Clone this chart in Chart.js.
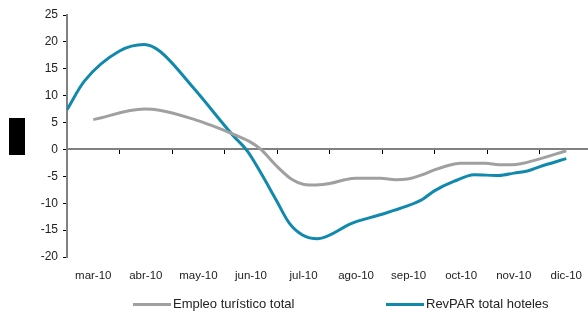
<!DOCTYPE html>
<html>
<head>
<meta charset="utf-8">
<script src="https://cdn.jsdelivr.net/npm/chart.js@4.4.1/dist/chart.umd.min.js"></script>
<style>
  html, body { margin: 0; padding: 0; background: #fff; overflow: hidden; }
  #wrap { position: relative; width: 588px; height: 318px; overflow: hidden; }
  canvas { position: absolute; left: 0; top: 0; }
  .blk { position: absolute; left: 9px; top: 118px; width: 16px; height: 37px; background: #000; }
  .leg { position: absolute; top: 296px; font: 13px "Liberation Sans", Arial, sans-serif; color: #222; white-space: nowrap; }
  .leg i { display: inline-block; width: 38px; height: 3px; vertical-align: middle; margin-right: 2px; }
</style>
</head>
<body>
<div id="wrap">
  <canvas id="chart" width="594" height="318"></canvas>
  <div class="blk"></div>
  <div class="leg" style="left:133px"><i style="background:#a0a0a0"></i>Empleo turístico total</div>
  <div class="leg" style="left:386px"><i style="background:#1189ad"></i>RevPAR total hoteles</div>
</div>
<script>
// month labels (x axis)
const months = ['mar-10', 'abr-10', 'may-10', 'jun-10', 'jul-10', 'ago-10', 'sep-10', 'oct-10', 'nov-10', 'dic-10'];

// positions in months from start of mar-10
const empleoPos = [0.5, 1.47, 1.76, 2.42, 2.71, 3.15, 3.47, 3.69, 3.98, 4.29, 4.51, 4.74, 5.02, 5.28, 5.5, 5.97, 6.25, 6.48, 6.76, 6.99, 7.37, 7.49, 7.97, 8.22, 8.47, 8.98, 9.5];
const empleoVal = [5.55, 7.5, 7.3, 5.6, 4.6, 2.9, 1.5, 0, -3.0, -5.65, -6.5, -6.6, -6.3, -5.65, -5.35, -5.35, -5.65, -5.5, -4.7, -3.8, -2.7, -2.55, -2.55, -2.85, -2.85, -1.8, -0.25];

const revparPos = [0, 0.33, 1.0, 1.47, 1.76, 2.4, 3.15, 3.44, 3.69, 3.98, 4.23, 4.48, 4.77, 5.43, 5.94, 6.45, 6.76, 6.99, 7.37, 7.75, 8.22, 8.51, 8.76, 9.0, 9.5];
const revparVal = [7.4, 12.7, 18.3, 19.5, 18.3, 11.5, 2.7, -0.4, -4.4, -9.4, -13.7, -15.9, -16.6, -13.7, -12.2, -10.6, -9.3, -7.7, -5.9, -4.7, -4.85, -4.4, -4.0, -3.2, -1.7];

const font = { family: '"Liberation Sans", Arial, sans-serif', size: 12 };

const ctx = document.getElementById('chart').getContext('2d');
new Chart(ctx, {
  type: 'line',
  data: {
    datasets: [
      {
        label: 'Empleo turístico total',
        data: empleoPos.map((p, i) => ({ x: p, y: empleoVal[i] })),
        borderColor: '#a0a0a0', borderWidth: 3,
        pointRadius: 0, cubicInterpolationMode: 'monotone'
      },
      {
        label: 'RevPAR total hoteles',
        data: revparPos.map((p, i) => ({ x: p, y: revparVal[i] })),
        borderColor: '#1189ad', borderWidth: 3,
        pointRadius: 0, cubicInterpolationMode: 'monotone'
      }
    ]
  },
  options: {
    responsive: false,
    animation: false,
    layout: { padding: { top: 15, right: 0, left: 0, bottom: 0 } },
    plugins: { legend: { display: false }, tooltip: { enabled: false } },
    scales: {
      x: { type: 'linear', min: 0, max: 10, display: false },
      xc: {
        type: 'category', labels: months, position: 'bottom', offset: true,
        grid: { display: false, drawTicks: false },
        border: { display: false },
        ticks: { color: '#222', font: { ...font, size: 11.5 }, padding: 12, maxRotation: 0 },
        afterFit: s => { s.height = 61; }
      },
      x0: {
        type: 'category', labels: months, position: { y: 0 }, offset: true,
        grid: { offset: true, drawOnChartArea: false, tickLength: 4, color: '#000' },
        border: { color: '#808080', width: 2 },
        ticks: { display: false }
      },
      y: {
        min: -20, max: 25,
        ticks: { stepSize: 5, color: '#222', font: font, padding: 5 },
        grid: { drawOnChartArea: false, tickLength: 4, color: '#000' },
        border: { color: '#808080', width: 2 },
        afterFit: s => { s.width = 67; }
      }
    }
  }
});
</script>
</body>
</html>
